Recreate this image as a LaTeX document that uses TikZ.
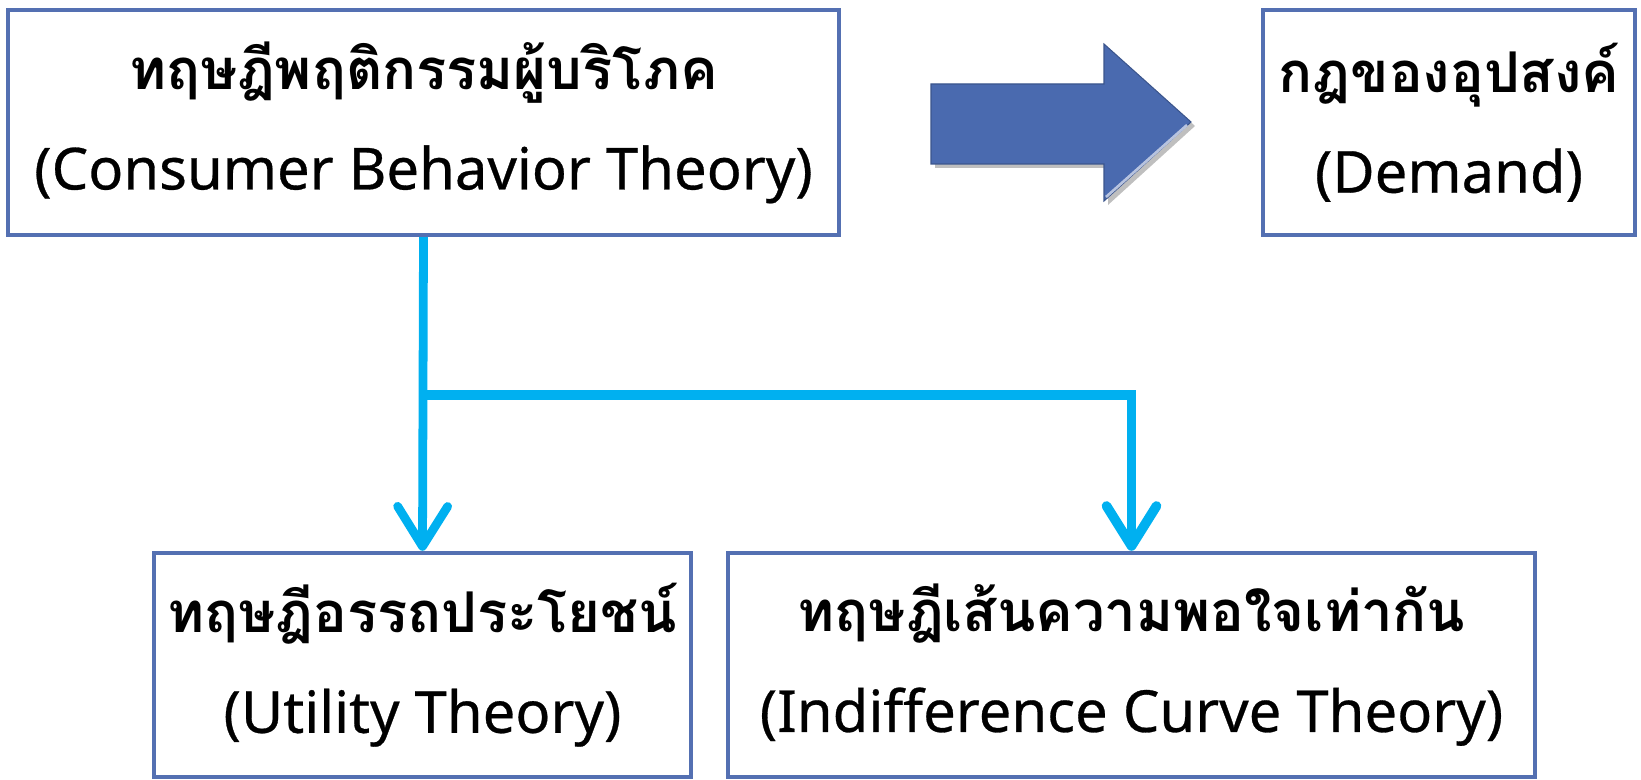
\documentclass[tikz,border=0pt]{standalone}
\usepackage{fontspec}
\setmainfont{Noto Sans}[FakeBold=0.5]
\newfontfamily\thaifont[Script=Thai]{Loma}
\usetikzlibrary{arrows.meta}
\definecolor{boxblue}{RGB}{84,112,178}
\definecolor{arrowblue}{RGB}{74,106,175}
\definecolor{linkcyan}{RGB}{0,176,240}
\newcommand{\thline}[1]{{\thaifont\bfseries\fontsize{32}{57}\selectfont #1}}
\tikzset{
  theorybox/.style={rectangle,draw=boxblue,line width=2.5pt,inner sep=0pt,
    align=center,font=\fontsize{33}{57}\selectfont},
  link/.style={draw=linkcyan,line width=5pt,
    -{Straight Barb[length=0.8cm,width=1cm,round]}}
}
\begin{document}
\begin{tikzpicture}[x=0.02cm,y=-0.02cm]
  \useasboundingbox (0,0) rectangle (1641,780);

  \node[theorybox,minimum width=831*0.02cm,minimum height=225*0.02cm] (consumer) at (423.5,122.5)
    {\thline{ทฤษฎีพฤติกรรมผู้บริโภค}\\(Consumer Behavior Theory)};
  \node[theorybox,minimum width=372*0.02cm,minimum height=225*0.02cm] (demand) at (1449,122.5)
    {\thline{กฎของอุปสงค์}\\(Demand)};
  \node[theorybox,minimum width=537*0.02cm,minimum height=224*0.02cm] (utility) at (422.5,665)
    {\thline{ทฤษฎีอรรถประโยชน์}\\(Utility Theory)};
  \node[theorybox,minimum width=807*0.02cm,minimum height=224*0.02cm] (curve) at (1131.5,665)
    {\thline{ทฤษฎีเส้นความพอใจเท่ากัน}\\(Indifference Curve Theory)};

  % block arrow between the top boxes
  \fill[black,opacity=0.25]
    (935,88) -- (1108,88) -- (1108,48) -- (1195,126) -- (1108,205) -- (1108,168) -- (935,168) -- cycle;
  \fill[arrowblue,draw=arrowblue!80!black,line width=0.6pt]
    (931,84) -- (1104,84) -- (1104,44) -- (1191,122) -- (1104,201) -- (1104,164) -- (931,164) -- cycle;
  \draw[arrowblue!40!white,line width=1.5pt] (1187,125) -- (1106,197);

  % connectors
  \coordinate (split) at (consumer.south |- 0,395);
  \draw[link] (consumer.south) -- (utility.north);
  \draw[link,line width=5.5pt] (split) -| (curve.north);
\end{tikzpicture}
\end{document}
